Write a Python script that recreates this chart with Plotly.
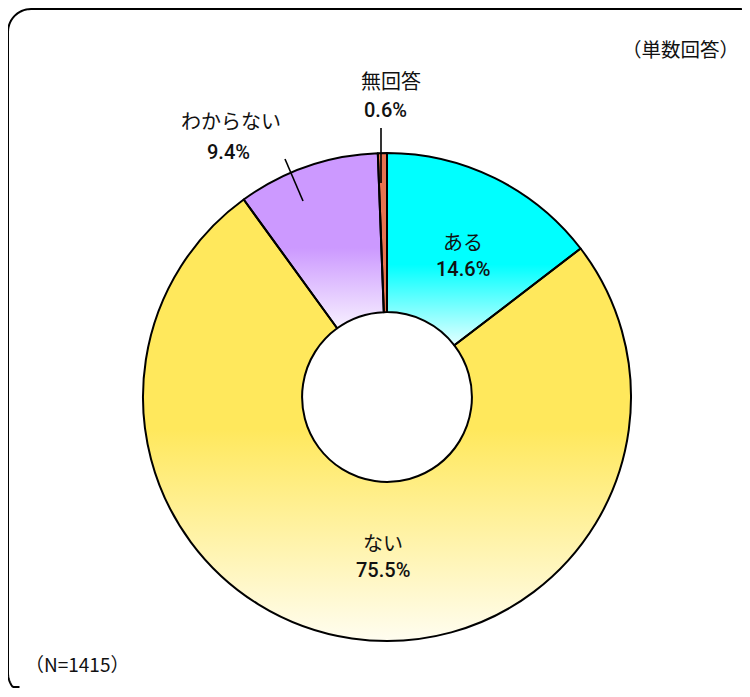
import numpy as np
import plotly.graph_objects as go

# ---- data ----
labels = ["ある", "ない", "わからない", "無回答"]
values = [14.6, 75.5, 9.4, 0.6]
pct_text = ["14.6%", "75.5%", "9.4%", "0.6%"]
note_top = "（単数回答）"
note_bottom = "（N=1415）"

# ---- style ----
top_colors = ["#00FFFF", "#FFE85C", "#CC99FF", "#E8734F"]
bottom_colors = ["#E4FFFF", "#FFFDF0", "#F7F0FF", "#E8734F"]
fade_pos = [0.42, 0.48, 0.46, 0.5]
hole = 0.348

OFF = 8  # page body margin (all sides)
W, H = 750 - 2 * OFF, 697 - 2 * OFF - 1
L, T, SIDE = 143 - OFF, 153 - OFF, 488  # plot area (square)
R = W - L - SIDE
B = H - T - SIDE
XMAX, YMAX = OFF + W - 1, OFF + H - 1  # last visible page pixel


def px(X):
    return (X - OFF - L) / SIDE


def py(Y):
    return (T + SIDE - (Y - OFF)) / SIDE


fig = go.Figure()

total = float(sum(values))
cum = np.concatenate([[0.0], np.cumsum(values)]) / total
for i in range(len(values)):
    th = np.linspace(cum[i], cum[i + 1], 120) * 2 * np.pi
    xo, yo = np.sin(th), np.cos(th)
    xs = np.concatenate([xo, hole * xo[::-1], xo[:1]])
    ys = np.concatenate([yo, hole * yo[::-1], yo[:1]])
    fig.add_trace(go.Scatter(
        x=xs, y=ys, mode="lines", line=dict(width=0, color="rgba(0,0,0,0)"),
        fill="toself",
        fillgradient=dict(type="vertical",
                          colorscale=[[0, bottom_colors[i]], [fade_pos[i], top_colors[i]], [1, top_colors[i]]]),
        hoverinfo="skip", showlegend=False))

fig.add_trace(go.Pie(
    labels=labels, values=values, hole=hole, sort=False, direction="clockwise",
    rotation=0, textinfo="none",
    marker=dict(colors=["rgba(0,0,0,0)"] * 4, line=dict(color="black", width=2)),
    domain=dict(x=[0, 1], y=[0, 1]), showlegend=False))

JP = "Noto Sans CJK JP"
NUM = "Roboto, Noto Sans CJK JP, sans-serif"

ann = []


def add_text(text, X, Y, size, family, anchor="center", weight="normal", color="#111"):
    ann.append(dict(text=text,
                    x=px(X), y=py(Y), xref="paper", yref="paper",
                    xanchor=anchor, yanchor="middle", showarrow=False,
                    font=dict(size=size, family=family, color=color, weight=weight)))


pos = {
    0: ((463, 241), (463, 269)),
    1: ((383, 542), (383, 570)),
    2: ((231, 121), (228, 152)),
    3: ((391, 80), (385, 110)),
}
for i in range(len(labels)):
    (nx, ny), (qx, qy) = pos[i]
    add_text(labels[i], nx, ny, 20, JP)
    add_text(pct_text[i], qx, qy, 20, NUM, weight=500)

add_text(note_top, XMAX, 48, 19.5, JP, anchor="right")
add_text(note_bottom, 23, 663, 19, JP, anchor="left")

shapes = []
for (x0, y0, x1, y1) in [(285, 159, 303, 201), (381, 128, 381, 183)]:
    shapes.append(dict(type="line", xref="paper", yref="paper",
                       x0=px(x0), y0=py(y0), x1=px(x1), y1=py(y1),
                       line=dict(color="black", width=1.6)))

# rounded frame: only the part inside the picture (left, top, corners)
fx0, fy0, fx1, fy1, rr = 8, 9, 763, 696, 23


def arc(cx, cy, a0, a1, n=16):
    a = np.radians(np.linspace(a0, a1, n))
    return [(cx + rr * np.cos(t), cy + rr * np.sin(t)) for t in a]


pts = []
pts += arc(fx0 + rr, fy1 - rr, 180 - 60, 180)          # bottom-left corner (visible part)
pts += arc(fx0 + rr, fy0 + rr, 180, 270)               # top-left corner
pts += arc(fx1 - rr, fy0 + rr, 270, 300)               # start of top-right corner
pts = [(min(x, XMAX), min(y, YMAX)) for x, y in pts]
pts = [p for p in pts if p[0] < XMAX or p[1] <= fy0 + 1]
path = "M " + " L ".join(f"{px(x):.5f},{py(y):.5f}" for x, y in pts)
shapes.append(dict(type="path", xref="paper", yref="paper", path=path,
                   line=dict(color="black", width=2), fillcolor="rgba(0,0,0,0)"))

fig.update_layout(
    width=W, height=H,
    margin=dict(l=L, r=R, t=T, b=B),
    paper_bgcolor="white", plot_bgcolor="white",
    xaxis=dict(visible=False, range=[-1, 1], fixedrange=True),
    yaxis=dict(visible=False, range=[-1, 1], fixedrange=True),
    annotations=ann, shapes=shapes, showlegend=False,
    font=dict(family=JP),
)

fig.write_html("out.html")
